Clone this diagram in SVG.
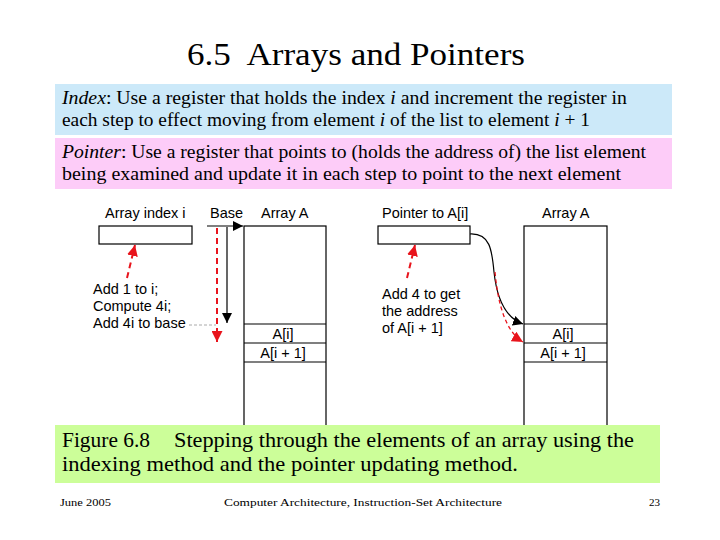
<svg xmlns="http://www.w3.org/2000/svg" width="720" height="540" viewBox="0 0 720 540">
<style>
.serif{font-family:"Liberation Serif","DejaVu Serif",serif;fill:#000}
.sans{font-family:"Liberation Sans",Arial,sans-serif;font-size:14.5px;fill:#000}
.box{fill:#fff;stroke:#000;stroke-width:1.2}
.div{stroke:#000;stroke-width:1.2}
.blk{fill:none;stroke:#000;stroke-width:1.2}
.red{fill:none;stroke:#e8141c;stroke-width:2;stroke-dasharray:6,4}
.redthin{fill:none;stroke:#e8141c;stroke-width:1.3;stroke-dasharray:4,3}
.gray{fill:none;stroke:#aaa;stroke-width:1;stroke-dasharray:3,2}
</style>
<defs>
<marker id="ab" viewBox="0 0 10 10" refX="10" refY="5" markerWidth="10" markerHeight="10" markerUnits="userSpaceOnUse" orient="auto"><path d="M0,0 L10,5 L0,10 z" fill="#000"/></marker>
<marker id="ar" viewBox="0 0 10 10" refX="10" refY="5" markerWidth="11" markerHeight="11" markerUnits="userSpaceOnUse" orient="auto"><path d="M0,0 L10,5 L0,10 z" fill="#e8141c"/></marker>
</defs>
<rect width="720" height="540" fill="#fff"/>
<text class="serif" x="187" y="65" font-size="31" textLength="338" lengthAdjust="spacingAndGlyphs" xml:space="preserve">6.5  Arrays and Pointers</text>

<g id="index-note">
<rect x="55" y="84" width="617" height="51" fill="#cce9f9"/>
<text class="serif" x="62" y="104" font-size="18.5" textLength="565" lengthAdjust="spacingAndGlyphs"><tspan font-style="italic">Index</tspan>: Use a register that holds the index <tspan font-style="italic">i</tspan> and increment the register in</text>
<text class="serif" x="62" y="126" font-size="18.5" textLength="528" lengthAdjust="spacingAndGlyphs">each step to effect moving from element <tspan font-style="italic">i</tspan> of the list to element <tspan font-style="italic">i</tspan> + 1</text>
</g>
<g id="pointer-note">
<rect x="55" y="138" width="617" height="51" fill="#fdccf8"/>
<text class="serif" x="62" y="158" font-size="18.5" textLength="584" lengthAdjust="spacingAndGlyphs"><tspan font-style="italic">Pointer</tspan>: Use a register that points to (holds the address of) the list element</text>
<text class="serif" x="62" y="180" font-size="18.5" textLength="559" lengthAdjust="spacingAndGlyphs">being examined and update it in each step to point to the next element</text>
</g>

<g id="left-diagram">
<text class="sans" x="105" y="218">Array index i</text>
<text class="sans" x="210" y="218">Base</text>
<text class="sans" x="261" y="218">Array A</text>
<rect class="box" x="99" y="226" width="93" height="18"/>
<rect class="box" x="244" y="226" width="82" height="200"/>
<line class="div" x1="244" y1="324" x2="326" y2="324"/>
<line class="div" x1="244" y1="343" x2="326" y2="343"/>
<line class="div" x1="244" y1="362" x2="326" y2="362"/>
<text class="sans" x="283" y="339" text-anchor="middle">A[i]</text>
<text class="sans" x="283" y="358" text-anchor="middle">A[i + 1]</text>
<text class="sans" x="93" y="294">Add 1 to i;</text>
<text class="sans" x="93" y="311">Compute 4i;</text>
<text class="sans" x="93" y="328">Add 4i to base</text>
</g>

<g id="right-diagram">
<text class="sans" x="382" y="218">Pointer to A[i]</text>
<text class="sans" x="542" y="218">Array A</text>
<rect class="box" x="378" y="226" width="92" height="18"/>
<rect class="box" x="524" y="226" width="83" height="200"/>
<line class="div" x1="524" y1="324" x2="607" y2="324"/>
<line class="div" x1="524" y1="343" x2="607" y2="343"/>
<line class="div" x1="524" y1="362" x2="607" y2="362"/>
<text class="sans" x="563" y="339" text-anchor="middle">A[i]</text>
<text class="sans" x="563" y="358" text-anchor="middle">A[i + 1]</text>
<text class="sans" x="382" y="299">Add 4 to get</text>
<text class="sans" x="382" y="316">the address</text>
<text class="sans" x="382" y="333">of A[i + 1]</text>
</g>

<g id="connectors">
<line class="blk" x1="207" y1="226" x2="243" y2="226" marker-end="url(#ab)"/>
<line class="blk" x1="227" y1="227" x2="227" y2="323" marker-end="url(#ab)"/>
<line class="red" x1="217" y1="228" x2="217" y2="342" marker-end="url(#ar)"/>
<line class="gray" x1="189" y1="325" x2="216" y2="325"/>
<path class="red" d="M127,278 L135,245" marker-end="url(#ar)"/>
<path class="blk" d="M470,234 C490,233 492,250 494,272 C497,300 506,318 523,324" marker-end="url(#ab)"/>
<path class="redthin" d="M495,272 C498,305 506,332 523,342" marker-end="url(#ar)"/>
<path class="red" d="M407,278 L415,245" marker-end="url(#ar)"/>
</g>

<g id="caption">
<rect x="55" y="425" width="605" height="58" fill="#ccfe99"/>
<text class="serif" x="62" y="447" font-size="21" textLength="88" lengthAdjust="spacingAndGlyphs">Figure 6.8</text>
<text class="serif" x="174" y="447" font-size="21" textLength="460" lengthAdjust="spacingAndGlyphs">Stepping through the elements of an array using the</text>
<text class="serif" x="62" y="471" font-size="21" textLength="456" lengthAdjust="spacingAndGlyphs">indexing method and the pointer updating method.</text>
</g>

<g id="footer">
<text class="serif" x="60" y="506" font-size="11" textLength="51" lengthAdjust="spacingAndGlyphs">June 2005</text>
<text class="serif" x="224" y="506" font-size="11" textLength="278" lengthAdjust="spacingAndGlyphs">Computer Architecture, Instruction-Set Architecture</text>
<text class="serif" x="660" y="506" font-size="11" text-anchor="end">23</text>
</g>
</svg>
